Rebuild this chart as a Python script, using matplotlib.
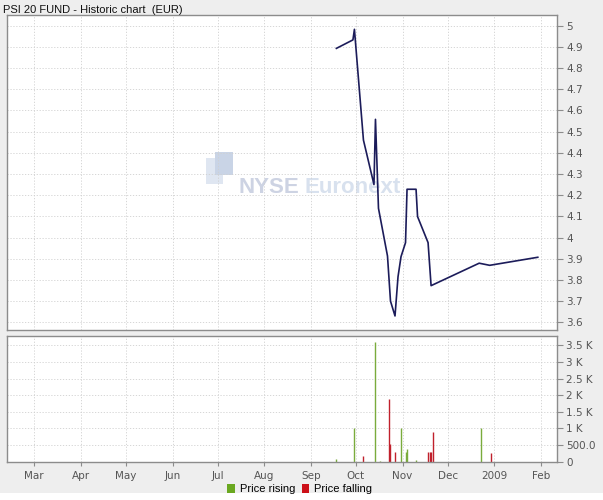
import matplotlib
matplotlib.use("Agg")
import matplotlib.pyplot as plt
import matplotlib.dates as mdates
from matplotlib.patches import Patch, Rectangle
import pandas as pd

# closing prices (EUR)
price_dates = ['2008-09-18', '2008-09-29', '2008-09-30', '2008-10-06', '2008-10-13',
               '2008-10-14', '2008-10-16', '2008-10-22', '2008-10-24', '2008-10-27',
               '2008-10-29', '2008-10-31', '2008-11-03', '2008-11-04', '2008-11-10',
               '2008-11-11', '2008-11-18', '2008-11-20', '2008-12-22', '2008-12-29',
               '2009-01-30']
prices = [4.893, 4.933, 4.983, 4.46, 4.25,
          4.558, 4.138, 3.913, 3.70, 3.63,
          3.815, 3.91, 3.976, 4.228, 4.228,
          4.099, 3.976, 3.773, 3.879, 3.869,
          3.907]

# volumes on rising days
rise_dates = ['2008-09-18', '2008-09-30', '2008-10-14', '2008-10-17', '2008-10-31',
              '2008-11-03', '2008-11-04', '2008-11-10', '2008-12-23']
rise_vol = [80, 1000, 3600, 20, 1000, 300, 373, 40, 1000]

# volumes on falling days
fall_dates = ['2008-10-06', '2008-10-23', '2008-10-24', '2008-10-27', '2008-11-18',
              '2008-11-19', '2008-11-20', '2008-11-21', '2008-12-30']
fall_vol = [171, 1890, 540, 300, 290, 290, 290, 893, 252]

month_ticks = pd.date_range('2008-03-01', '2009-02-01', freq='MS')
price_ticks = [3.6 + 0.1 * i for i in range(15)]
vol_ticks = [0, 500, 1000, 1500, 2000, 2500, 3000, 3500]
vol_labels = ['0', '500.0', '1 K', '1.5 K', '2 K', '2.5 K', '3 K', '3.5 K']

bg = '#eeeeee'
axis_col = '#8c8c8c'
text_col = '#555555'
grid_col = '#d0d0d0'

fig = plt.figure(figsize=(6.03, 5.0), dpi=100)
fig.patch.set_facecolor(bg)
fig.patches.append(Rectangle((0, 0), 1, 7 / 500, transform=fig.transFigure,
                             facecolor='white', edgecolor='none', zorder=0))

ax = fig.add_axes([7 / 603, 1 - 330 / 500, (556.7 - 7) / 603, (330 - 15) / 500])
axv = fig.add_axes([7 / 603, 1 - 461.7 / 500, (556.7 - 7) / 603, (461.7 - 335.7) / 500],
                   sharex=ax)

x0 = pd.Timestamp('2008-02-11 20:00')
x1 = pd.Timestamp('2009-02-11 14:00')

# white plot area behind the transparent price axes
fig.patches.append(Rectangle((7 / 603, 1 - 330 / 500), (556.7 - 7) / 603, (330 - 15) / 500,
                             transform=fig.transFigure, facecolor='white',
                             edgecolor='none', zorder=1))

# watermark
for (px, py, w, h, c) in [(206, 158, 17, 26, '#dfe6f1'), (215, 152, 18, 23, '#c9d4e6')]:
    fig.patches.append(Rectangle((px / 603, 1 - (py + h) / 500), w / 603, h / 500,
                                 transform=fig.transFigure, facecolor=c,
                                 edgecolor='none', zorder=1.5))
fig.text(238 / 603, 1 - 193 / 500, 'NYSE', fontsize=16, fontweight='bold',
         family='Liberation Sans', color='#cdd3e3', va='baseline', ha='left', zorder=1.6)
fig.text(305 / 603, 1 - 193 / 500, 'Euronext', fontsize=16, fontweight='bold',
         family='Liberation Sans', color='#d8e1ee', va='baseline', ha='left', zorder=1.6)

ax.patch.set_alpha(0)
ax.set_zorder(2)
ax.plot(pd.to_datetime(price_dates), prices, color='#1c1c5a', lw=1.2)
ax.set_ylim(3.5637, 5.0505)
ax.set_yticks(price_ticks)
ax.set_yticklabels(['%g' % round(v, 1) for v in price_ticks])

# volume bars (one pixel wide, as in the original)
axv.vlines(pd.to_datetime(rise_dates), 0, rise_vol, colors='#7aab3c', lw=1.0)
axv.vlines(pd.to_datetime(fall_dates), 0, fall_vol, colors='#c0202c', lw=1.0)
axv.set_ylim(0, 3788)
axv.set_yticks(vol_ticks)
axv.set_yticklabels(vol_labels)

for a in (ax, axv):
    a.set_xlim(x0, x1)
    a.set_xticks(month_ticks)
    a.grid(True, color=grid_col, lw=0.6, linestyle=(0, (1.5, 2)))
    a.set_axisbelow(True)
    a.yaxis.tick_right()
    for s in a.spines.values():
        s.set_color(axis_col)
        s.set_linewidth(1.0)
    a.tick_params(axis='y', colors=axis_col, labelcolor=text_col, labelsize=7.5,
                  length=4, width=0.8, pad=3)
    a.tick_params(axis='x', colors=axis_col, labelcolor=text_col, labelsize=7.5,
                  length=3, width=0.8, pad=4)

ax.tick_params(axis='x', labelbottom=False, length=0)
axv.xaxis.set_major_formatter(
    plt.FuncFormatter(lambda v, pos: mdates.num2date(v).strftime('%Y')
                      if mdates.num2date(v).month == 1 else mdates.num2date(v).strftime('%b')))

fig.text(3 / 603, 1 - 10 / 500, 'PSI 20 FUND - Historic chart  (EUR)', fontsize=8,
         family='Liberation Sans', color='#111111', va='center', ha='left')

handles = [Patch(facecolor='#6aa820', label='Price rising'),
           Patch(facecolor='#cc1018', label='Price falling')]
fig.legend(handles=handles, loc='center', bbox_to_anchor=(0.497, 1 - 489 / 500), ncol=2,
           frameon=False, prop={'family': 'Liberation Sans', 'size': 8},
           handlelength=0.7, handleheight=0.9, handletextpad=0.4, columnspacing=0.6)

fig.savefig('out.png', dpi=100, facecolor=bg)
